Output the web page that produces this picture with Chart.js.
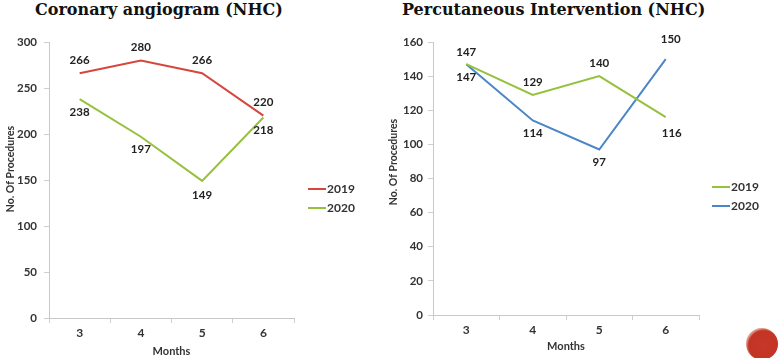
<!DOCTYPE html>
<html>
<head>
<meta charset="utf-8">
<script src="https://cdn.jsdelivr.net/npm/chart.js@4.4.1/dist/chart.umd.min.js"></script>
<style>
  html, body { margin: 0; padding: 0; background: #fff; }
  body { width: 780px; height: 358px; position: relative; overflow: hidden; }
  .box { position: absolute; top: 0; height: 358px; }
  .title { position: absolute; top: 0; font-family: "DejaVu Serif", serif; font-weight: bold; font-size: 16px; color: #111; white-space: nowrap; line-height: 20px; }
  .logo { position: absolute; left: 746px; top: 328px; width: 32px; height: 32px; border-radius: 50%;
    background: radial-gradient(circle at 55% 55%, #c8372a 0%, #c23424 60%, #e2a090 70%, #c7402f 78%, #b83221 100%); }
</style>
</head>
<body>
<div class="title" id="t1" style="left:35px;">Coronary angiogram (NHC)</div>
<div class="title" id="t2" style="left:402px;">Percutaneous Intervention (NHC)</div>
<div class="box" style="left:0; width:370px;"><canvas id="angio"></canvas></div>
<div class="box" style="left:380px; width:400px;"><canvas id="pci"></canvas></div>
<div class="logo"></div>
<script>
const months = ['3', '4', '5', '6'];
const angio2019 = [266, 280, 266, 220];
const angio2020 = [238, 197, 149, 218];
const pci2019 = [147, 129, 140, 116];
const pci2020 = [147, 114, 97, 150];
const angioYMax = 300, angioYStep = 50;
const pciYMax = 160, pciYStep = 20;

// label offsets (dx, dy) from each point
const angio2019Off = [[0, -13], [0, -13], [0, -13], [0, -13]];
const angio2020Off = [[0, 13], [0, 13], [0, 14], [0, 13]];
const pci2019Off = [[0, -12], [0, -13], [0, -13], [6, 16]];
const pci2020Off = [[0, 13], [0, 13], [0, 13], [5, -20]];

const RED = '#d6463f', GREEN = '#95c13d', BLUE = '#4a86c8';
const TXT = '#333';

// draws point values, legend and rotated y title
const decor = {
  id: 'decor',
  afterDatasetsDraw(chart, args, opts) {
    const ctx = chart.ctx;
    ctx.save();
    ctx.font = 'bold 11.5px Lato';
    ctx.fillStyle = '#222';
    ctx.textAlign = 'center';
    ctx.textBaseline = 'middle';
    chart.data.datasets.forEach((ds, i) => {
      chart.getDatasetMeta(i).data.forEach((pt, j) => {
        const o = ds.labelOff[j];
        ctx.fillText(ds.data[j], pt.x + o[0], pt.y + o[1]);
      });
    });
    // legend
    ctx.textAlign = 'left';
    ctx.font = 'bold 12px Lato';
    chart.data.datasets.forEach((ds, i) => {
      const y = opts.legendY + i * opts.legendGap;
      ctx.strokeStyle = ds.borderColor;
      ctx.lineWidth = 2;
      ctx.beginPath();
      ctx.moveTo(opts.legendX, y);
      ctx.lineTo(opts.legendX + 18, y);
      ctx.stroke();
      ctx.fillStyle = TXT;
      ctx.fillText(ds.label, opts.legendX + 19, y);
    });
    // y title
    ctx.translate(opts.yTitleX, opts.yTitleY);
    ctx.rotate(-Math.PI / 2);
    ctx.textAlign = 'center';
    ctx.font = 'bold 10.5px Lato';
    ctx.fillStyle = TXT;
    ctx.fillText('No. Of Procedures', 0, 0);
    ctx.restore();
  }
};

function makeChart(id, labels, sets, yMax, yStep, pad, yW, xH, d) {
  return new Chart(document.getElementById(id), {
    type: 'line',
    data: {
      labels,
      datasets: sets.map(s => ({
        label: s.label, data: s.data, labelOff: s.off,
        borderColor: s.color, backgroundColor: s.color,
        borderWidth: 2, pointRadius: 0, tension: 0, fill: false
      }))
    },
    options: {
      responsive: true, maintainAspectRatio: false, animation: false,
      layout: { padding: pad },
      plugins: { legend: { display: false }, tooltip: { enabled: false }, decor: d },
      scales: {
        x: {
          offset: true,
          grid: { offset: true, drawOnChartArea: false, tickLength: 5, color: '#cfcfcf' },
          border: { color: '#c8c8c8' },
          ticks: { color: TXT, font: { family: 'Lato', weight: 'bold', size: 12 }, padding: 3 },
          title: { display: true, text: 'Months', color: TXT, font: { family: 'Lato', weight: 'bold', size: 11 }, padding: { top: 0, bottom: d.xTitlePad } },
          afterFit: (s) => { s.height = xH; }
        },
        y: {
          min: 0, max: yMax,
          grid: { drawOnChartArea: false, tickLength: 5, color: '#cfcfcf' },
          border: { color: '#c8c8c8' },
          ticks: { stepSize: yStep, color: TXT, font: { family: 'Lato', weight: 'bold', size: 11.5 }, padding: d.yPad },
          afterFit: (s) => { s.width = yW; }
        }
      }
    },
    plugins: [decor]
  });
}

makeChart('angio', months, [
  { label: '2019', data: angio2019, color: RED, off: angio2019Off },
  { label: '2020', data: angio2020, color: GREEN, off: angio2020Off }
], angioYMax, angioYStep, { top: 42, right: 76, bottom: 0, left: 0 }, 49, 40,
  { legendX: 308, legendY: 189, legendGap: 19, yTitleX: 11, yTitleY: 169, yPad: 7, xTitlePad: 0 });

makeChart('pci', months, [
  { label: '2019', data: pci2019, color: GREEN, off: pci2019Off },
  { label: '2020', data: pci2020, color: BLUE, off: pci2020Off }
], pciYMax, pciYStep, { top: 42, right: 81, bottom: 0, left: 0 }, 53, 43,
  { legendX: 332, legendY: 187, legendGap: 19, yTitleX: 14, yTitleY: 162, yPad: 5, xTitlePad: 5 });
</script>
</body>
</html>
